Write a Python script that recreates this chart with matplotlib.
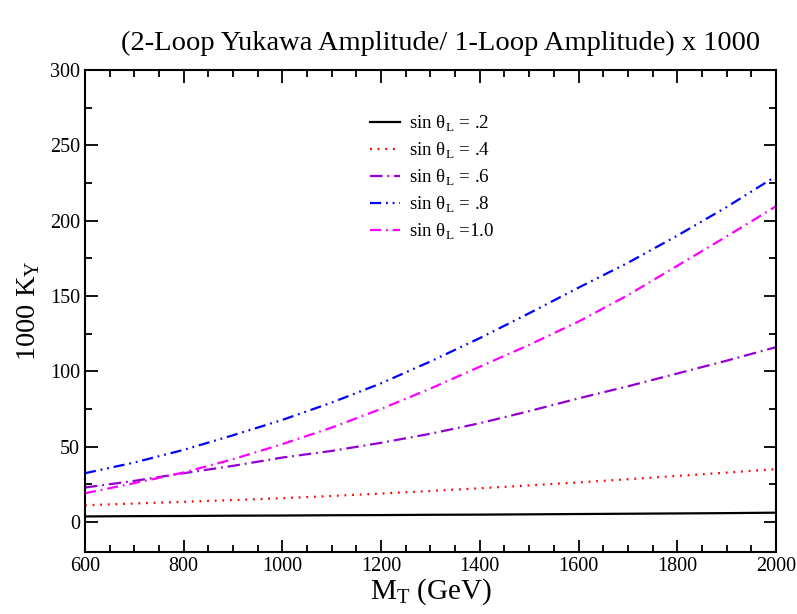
import matplotlib
matplotlib.use("Agg")
import matplotlib.pyplot as plt
from matplotlib.ticker import MultipleLocator

# values (x in GeV, y = 1000 K_Y)
m_t = [600, 700, 800, 900, 1000, 1100, 1200, 1300, 1400,
       1500, 1600, 1700, 1800, 1900, 2000]
k_02 = [3.6, 3.8, 3.9, 4.1, 4.2, 4.4, 4.5, 4.7, 4.8,
        5.0, 5.2, 5.4, 5.6, 5.8, 6.1]
k_04 = [11.0, 12.2, 13.3, 14.5, 15.7, 17.2, 18.8, 20.5, 22.3,
        24.2, 26.2, 28.3, 30.5, 32.7, 35.0]
k_06 = [22.8, 27.2, 32.3, 37.2, 42.7, 47.1, 52.5, 58.5, 65.5,
        73.5, 82.0, 90.0, 98.5, 107.0, 116.0]
k_08 = [32.3, 39.4, 47.8, 57.5, 67.7, 79.2, 92.0, 106.5, 122.0,
        138.5, 155.5, 172.0, 190.0, 209.0, 229.5]
k_10 = [19.0, 25.7, 32.8, 41.6, 51.6, 62.6, 75.0, 88.5, 103.0,
        117.5, 133.0, 150.5, 170.0, 189.5, 209.5]
labels = [".2", ".4", ".6", ".8", "1.0"]

plt.rcParams["font.family"] = "Liberation Serif"
plt.rcParams["mathtext.fontset"] = "custom"
plt.rcParams["mathtext.rm"] = "Liberation Serif"
plt.rcParams["lines.scale_dashes"] = False

fig = plt.figure(figsize=(7.97, 6.14), dpi=100)
ax = fig.add_axes([0.1066, 0.101, 0.867, 0.785])

styles = [
    ("black", "-"),
    ("#ff0000", (0, (1.3, 4.2))),
    ("#9400d3", (0, (9, 3.5, 1.3, 3.5))),
    ("#0000ff", (0, (8, 3.5, 1.3, 3.5, 1.3, 3.5))),
    ("#ff00ff", (0, (8, 3.5, 1.3, 3.5))),
]
series = [k_02, k_04, k_06, k_08, k_10]
for ys, lab, (col, ls) in zip(series, labels, styles):
    if lab == "1.0":
        txt = r"sin θ$_\mathregular{L}$ =" + lab
    else:
        txt = r"sin θ$_\mathregular{L}$ = " + lab
    ax.plot(m_t, ys, color=col, linestyle=ls, lw=1.6, label=txt)

ax.set_xlim(600, 2000)
ax.set_ylim(-20, 300)
ax.xaxis.set_major_locator(MultipleLocator(200))
ax.xaxis.set_minor_locator(MultipleLocator(50))
ax.yaxis.set_major_locator(MultipleLocator(50))
ax.yaxis.set_minor_locator(MultipleLocator(25))
ax.tick_params(which="both", direction="in", top=True, right=True, width=1.3,
               labelsize=14.5)
ax.tick_params(which="major", length=9)
ax.tick_params(which="minor", length=5)
for sp in ax.spines.values():
    sp.set_linewidth(1.5)

ax.set_xlabel(r"M$_\mathregular{T}$ (GeV)", fontsize=21, labelpad=0)
ax.set_ylabel(r"1000 K$_\mathregular{Y}$", fontsize=20.5, labelpad=6)
fig.text(0.5527, 0.9186, "(2-Loop Yukawa Amplitude/ 1-Loop Amplitude) x 1000",
         fontsize=20.5, ha="center", va="baseline")

ax.legend(loc="upper left", bbox_to_anchor=(0.387, 0.945), frameon=False,
          fontsize=13.7, handlelength=1.6, handletextpad=0.45,
          labelspacing=0.35)

fig.savefig("out.png", dpi=100)
